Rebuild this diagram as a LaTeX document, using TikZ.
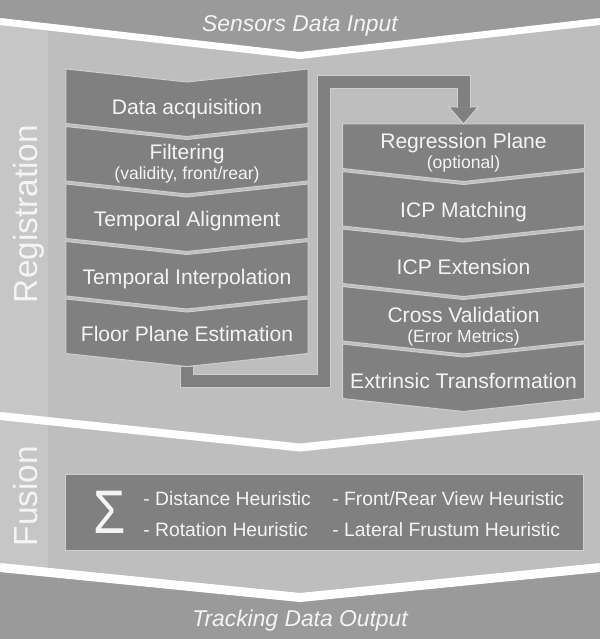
\documentclass[tikz,border=0pt]{standalone}
\usepackage{fontspec}
\setmainfont{Liberation Sans}
\usepackage{tikz}
\usetikzlibrary{positioning, backgrounds, calc}
\definecolor{bandgray}{HTML}{9A9A9A}
\definecolor{regiongray}{HTML}{BEBEBE}
\definecolor{stripgray}{HTML}{C6C6C6}
\definecolor{boxgray}{HTML}{808080}
\definecolor{edgegray}{HTML}{CECECE}
\definecolor{labelwhite}{HTML}{F4F4F4}
\newcommand{\chevd}{2.6mm}
\tikzset{
  % text of one processing step (chevron filled behind it)
  stage/.style={rectangle, minimum width=48.4mm, minimum height=10.9mm,
                inner sep=0pt, outer sep=0pt, align=center, text=labelwhite,
                font=\fontsize{12}{11.5}\selectfont},
  % one-line step, same baseline whatever the letters
  single/.style={stage, text height=9pt, text depth=#1},
  single/.default=3pt,
  stagefill/.style={fill=boxgray, draw=edgegray, line width=0.2mm},
  % white gap between the phases
  gapline/.style={draw=white, line join=miter},
  % thick band from one column to the other
  link/.style={draw=edgegray, line width=2.8mm,
               postaction={draw=boxgray, line width=2.4mm}},
  phase/.style={text=labelwhite, font=\fontsize{19}{19}\selectfont,
                rotate=90, anchor=base, inner sep=0pt},
  io/.style={text=labelwhite, font=\fontsize{13}{13}\selectfont\itshape},
  heurbox/.style={rectangle, fill=boxgray, draw=edgegray, line width=0.2mm,
                  minimum width=103.4mm, minimum height=15.2mm},
  heur/.style={text=labelwhite, font=\fontsize{11}{11}\selectfont,
               anchor=base west, inner sep=0pt},
}
\newcommand{\sub}[1]{{\fontsize{10}{11.5}\selectfont #1}}

\begin{document}
\begin{tikzpicture}[x=0.2mm, y=-0.2mm]
  \useasboundingbox (0,0) rectangle (600,639);
  \begin{scope}[on background layer]
    \fill[regiongray] (0,0) rectangle (600,639);
    \fill[stripgray] (0,0) rectangle (48,639);
    \fill[bandgray] (0,0) -- (600,0) -- (600,21.5) -- (300,55.5) -- (0,21.5) -- cycle;
    \fill[bandgray] (0,567.5) -- (300,597.5) -- (600,567.5) -- (600,639) -- (0,639) -- cycle;
    \draw[gapline, line width=1.4mm] (0,21.5) -- (300,55.5) -- (600,21.5);
    \draw[gapline, line width=1.6mm] (0,416) -- (300,447.5) -- (600,416);
    \draw[gapline, line width=1.8mm] (0,567.5) -- (300,597.5) -- (600,567.5);
  \end{scope}

  \node[io] (input) at (300,26) {Sensors Data Input};
  \node[io] (output) at (300,621) {Tracking Data Output};
  \node[phase] (reglabel) at (37,214) {Registration};
  \node[phase] (fuslabel) at (37,496) {Fusion};

  % left column
  \node[single] (acq) at (187,109.25) {Data acquisition};
  \node[stage, below=0.6mm of acq, text depth=6pt] (filt)
    {Filtering\\\sub{(validity, front/rear)}};
  \node[single=6pt, below=0.6mm of filt] (talign) {Temporal Alignment};
  \node[single=6pt, below=0.6mm of talign] (tinterp) {Temporal Interpolation};
  \node[single=6pt, below=0.6mm of tinterp] (floor) {Floor Plane Estimation};

  % right column
  \node[stage, minimum height=11.5mm] (regr) at (463.5,152.75)
    {Regression Plane\\\sub{(optional)}};
  \node[single, below=0.6mm of regr] (icpm) {ICP Matching};
  \node[single, below=0.6mm of icpm] (icpe) {ICP Extension};
  \node[stage, below=0.6mm of icpe] (cross) {Cross Validation\\\sub{(Error Metrics)}};
  \node[single=4.5pt, below=0.6mm of cross] (extr) {Extrinsic Transformation};

  \begin{scope}[on background layer]
    \foreach \s in {acq,filt,talign,tinterp,floor,icpm,icpe,cross,extr}
      \filldraw[stagefill] ([yshift=\chevd]\s.north west) -- (\s.north)
        -- ([yshift=\chevd]\s.north east) -- ([yshift=\chevd]\s.south east)
        -- (\s.south) -- ([yshift=\chevd]\s.south west) -- cycle;
    \filldraw[stagefill] (regr.north west) -- (regr.north east)
      -- ([yshift=\chevd]regr.south east) -- (regr.south)
      -- ([yshift=\chevd]regr.south west) -- cycle;
  \end{scope}

  % connector floor plane -> regression plane
  \coordinate (lowturn) at (324,381);
  \coordinate (highturn) at (324,82.5);
  \filldraw[stagefill] ([shift={(-2.9mm,3.4mm)}]regr.north) -- (regr.north)
    -- ([shift={(2.9mm,3.4mm)}]regr.north) -- cycle;
  \draw[link] (floor.south) |- (lowturn) -- (highturn)
    -| ([yshift=3.2mm]regr.north);

  % fusion heuristics
  \node[heurbox] (heur) at (324.5,512) {};
  \node[text=labelwhite, font=\fontsize{35}{35}\selectfont] (sum) at (110,512)
    {\scalebox{0.85}[1]{Σ}};
  \node[heur] (dist) at (143,505) {- Distance Heuristic};
  \node[heur] (rot) at (143,536) {- Rotation Heuristic};
  \node[heur] (front) at (332,505) {- Front/Rear View Heuristic};
  \node[heur] (lat) at (332,536) {- Lateral Frustum Heuristic};
\end{tikzpicture}
\end{document}
